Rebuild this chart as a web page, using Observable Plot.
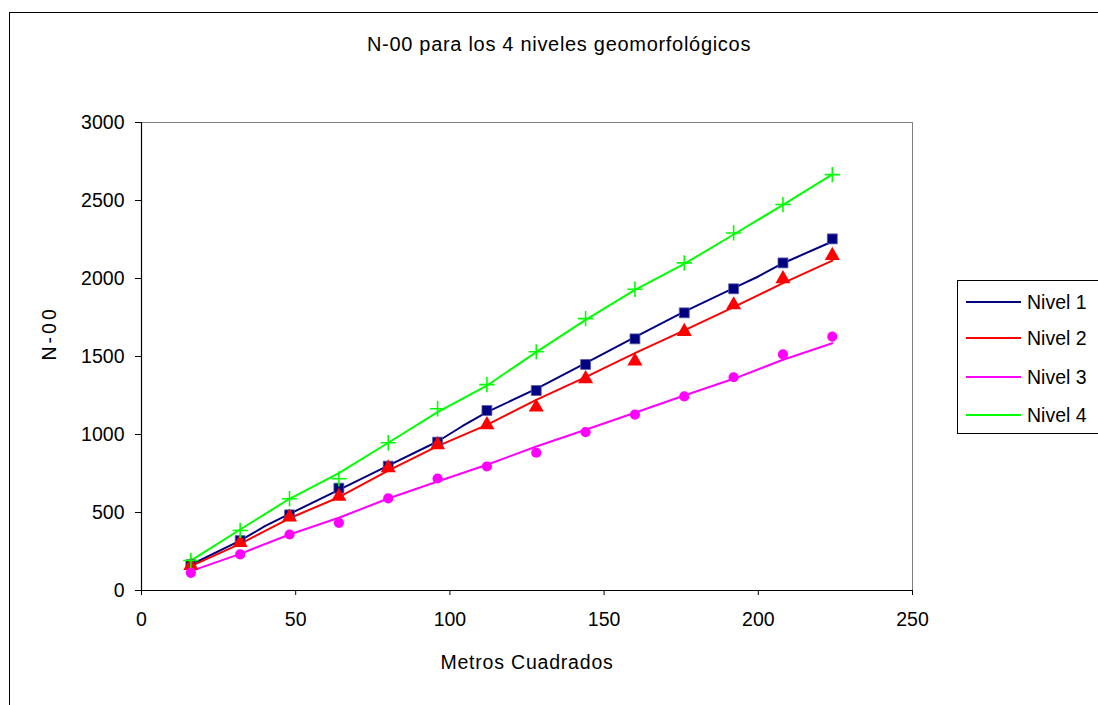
<!DOCTYPE html>
<html>
<head>
<meta charset="utf-8">
<script src="https://cdn.jsdelivr.net/npm/d3@7"></script>
<script src="https://cdn.jsdelivr.net/npm/@observablehq/plot@0.6"></script>
<style>
  html, body { margin: 0; padding: 0; background: #fff; overflow: hidden; }
  #wrap { position: relative; width: 1098px; height: 705px; font-family: "Liberation Sans", Arial, sans-serif; }
  #outer { position: absolute; left: 9px; top: 12px; width: 1200px; height: 800px; border: 1px solid #000; box-sizing: border-box; }
  #legend { position: absolute; left: 957px; top: 280px; width: 160px; height: 154px; border: 1px solid #000; box-sizing: border-box; background: #fff; }
  .item { position: absolute; left: 0; height: 24px; width: 160px; }
  .sw { position: absolute; left: 8px; width: 55px; top: 11px; height: 0; border-top: 2px solid; }
  .lab { position: absolute; left: 69px; top: 0; font-size: 19.5px; line-height: 24px; color: #000; }
  svg { position: absolute; left: 0; top: 0; }
</style>
</head>
<body>
<div id="wrap"><div id="outer"></div></div>
<script>
const series = ["Nivel 1", "Nivel 2", "Nivel 3", "Nivel 4"];
const colors = ["#000080", "#ff0000", "#ff00ff", "#00ff00"];
const symbols = ["square", "triangle", "circle", "plus"];

// observed points (markers)
const xPts = [16, 32, 48, 64, 80, 96, 112, 128, 144, 160, 176, 192, 208, 224];
const pts1 = [165, 320, 485, 656, 797, 951, 1154, 1282, 1449, 1613, 1780, 1934, 2100, 2254];
const pts2 = [160, 306, 470, 603, 786, 934, 1062, 1175, 1357, 1470, 1660, 1831, 1998, 2147];
const pts3 = [113, 231, 359, 434, 590, 718, 795, 883, 1015, 1128, 1244, 1367, 1513, 1628];
const pts4 = [192, 385, 588, 716, 947, 1165, 1320, 1530, 1743, 1931, 2100, 2292, 2474, 2666];

// lines (legend series)
const xLine1 = [16, 32, 40, 48, 64, 80, 96, 104, 112, 128, 144, 160, 176, 192, 200, 208, 224];
const line1 = [165, 320, 412, 491, 645, 801, 955, 1053, 1143, 1293, 1457, 1624, 1788, 1938, 2013, 2098, 2237];
const xLine = [16, 32, 48, 64, 80, 96, 112, 128, 144, 160, 176, 192, 208, 224];
const line2 = [156, 299, 463, 598, 769, 925, 1062, 1222, 1368, 1521, 1667, 1816, 1970, 2115];
const line3 = [124, 235, 359, 466, 590, 699, 806, 923, 1030, 1139, 1250, 1357, 1479, 1585];
const line4 = [192, 391, 588, 752, 947, 1143, 1314, 1528, 1735, 1927, 2094, 2282, 2472, 2667];

const xTicks = [0, 50, 100, 150, 200, 250];
const yTicks = [0, 500, 1000, 1500, 2000, 2500, 3000];

const title = "N-00 para los 4 niveles geomorfológicos";
const xTitle = "Metros Cuadrados";
const yTitle = "N-00";

const ptsAll = [pts1, pts2, pts3, pts4];
const linesAll = [[xLine1, line1], [xLine, line2], [xLine, line3], [xLine, line4]];

const pointData = ptsAll.flatMap((ys, i) => ys.map((y, j) => ({s: series[i], x: xPts[j], y})));
const lineData = linesAll.flatMap(([xs, ys], i) => ys.map((y, j) => ({s: series[i], x: xs[j], y})));

const marks = [
  Plot.frame({stroke: "#808080", strokeWidth: 1}),
  Plot.ruleX([0], {stroke: "#000", strokeWidth: 1.2}),
  Plot.ruleY([0], {stroke: "#000", strokeWidth: 1.2}),
  Plot.axisX({ticks: xTicks, tickSize: 5, tickPadding: 17, label: null, tickFormat: d => String(d)}),
  Plot.axisY({ticks: yTicks, tickSize: 6, tickPadding: 11, label: null, tickFormat: d => String(d)}),
  Plot.line(lineData, {x: "x", y: "y", z: "s", stroke: d => colors[series.indexOf(d.s)], strokeWidth: 2})
];
series.forEach((s, i) => {
  const data = pointData.filter(d => d.s === s);
  if (symbols[i] === "plus") {
    marks.push(Plot.dot(data, {x: "x", y: "y", symbol: "plus", r: 5, stroke: colors[i], strokeWidth: 1.6}));
  } else {
    marks.push(Plot.dot(data, {x: "x", y: "y", symbol: symbols[i], r: symbols[i] === "circle" ? 5.1 : 5.6, fill: colors[i], stroke: i === 0 ? "#5a5aa8" : "none", strokeWidth: 0.8}));
  }
});
marks.push(
  Plot.text([xTitle], {frameAnchor: "bottom", dy: 72, lineAnchor: "middle", fontSize: 19.5, fill: "#000"}),
  Plot.text([yTitle], {frameAnchor: "left", dx: -91.5, dy: 4, rotate: -90, lineAnchor: "middle", fontSize: 19.5, fill: "#000"}),
  Plot.text([title], {frameAnchor: "top", dx: 32, dy: -77.5, lineAnchor: "middle", fontSize: 20, fill: "#000"})
);

const chart = Plot.plot({
  width: 1098,
  height: 705,
  marginLeft: 141,
  marginRight: 186,
  marginTop: 122,
  marginBottom: 115,
  x: {domain: [0, 250]},
  y: {domain: [0, 3000]},
  style: {fontFamily: "'Liberation Sans', Arial, sans-serif", fontSize: "19.5px", color: "#000", background: "transparent", overflow: "visible"},
  marks
});
// Excel-like wider letter spacing on the titles
const spacing = {[title]: "0.7px", [xTitle]: "0.8px", [yTitle]: "3px"};
d3.select(chart).selectAll("text").each(function() {
  const t = this.textContent;
  if (spacing[t]) this.setAttribute("letter-spacing", spacing[t]);
});
const wrap = document.getElementById("wrap");
wrap.appendChild(chart);

const legend = document.createElement("div");
legend.id = "legend";
const centers = [20.7, 57, 96, 134];
series.forEach((s, i) => {
  const it = document.createElement("div");
  it.className = "item";
  it.style.top = (centers[i] - 12) + "px";
  const sw = document.createElement("div");
  sw.className = "sw";
  sw.style.borderTopColor = colors[i];
  const lab = document.createElement("div");
  lab.className = "lab";
  lab.textContent = s;
  it.appendChild(sw);
  it.appendChild(lab);
  legend.appendChild(it);
});
wrap.appendChild(legend);
</script>
</body>
</html>
